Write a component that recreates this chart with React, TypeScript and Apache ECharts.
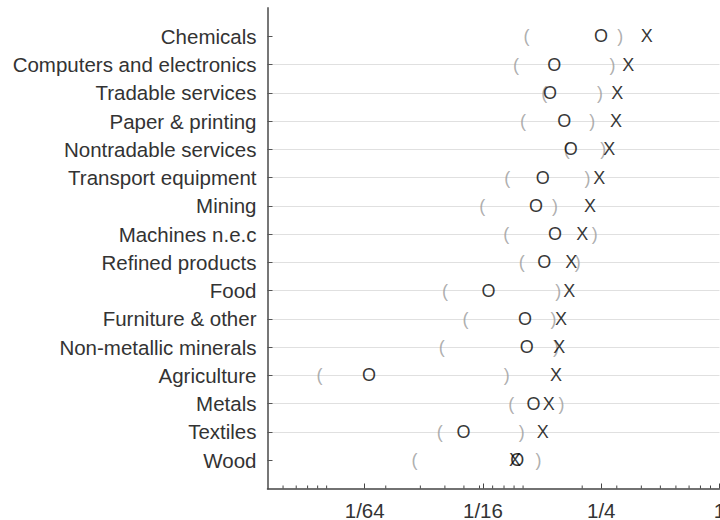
import React, { useEffect, useRef } from "react";
import * as echarts from "echarts";

const categories = [
  "Chemicals",
  "Computers and electronics",
  "Tradable services",
  "Paper & printing",
  "Nontradable services",
  "Transport equipment",
  "Mining",
  "Machines n.e.c",
  "Refined products",
  "Food",
  "Furniture & other",
  "Non-metallic minerals",
  "Agriculture",
  "Metals",
  "Textiles",
  "Wood",
];

// lower bound of interval, shown as "("
const lowerCI = [0.104, 0.092, 0.128, 0.1, 0.167, 0.083, 0.062, 0.082, 0.0985, 0.04, 0.051, 0.0385, 0.0092, 0.087, 0.0377, 0.028];
// estimate, shown as "O"
const estimateO = [0.249, 0.144, 0.137, 0.162, 0.175, 0.126, 0.1165, 0.1456, 0.128, 0.0666, 0.1024, 0.1044, 0.01645, 0.113, 0.0497, 0.0935];
// upper bound of interval, shown as ")"
const upperCI = [0.312, 0.285, 0.2465, 0.225, 0.256, 0.213, 0.1456, 0.232, 0.19, 0.151, 0.143, 0.147, 0.0826, 0.157, 0.0985, 0.12];
// second estimate, shown as "X"
const estimateX = [0.426, 0.343, 0.302, 0.297, 0.275, 0.244, 0.219, 0.2, 0.176, 0.172, 0.156, 0.153, 0.147, 0.135, 0.126, 0.091];

const minorTicks = [
  0.006, 0.007, 0.008, 0.009, 0.01,
  0.02, 0.03, 0.04, 0.05, 0.06, 0.07, 0.08, 0.09, 0.1,
  0.2, 0.3, 0.4, 0.5, 0.6, 0.7, 0.8, 0.9,
];

const FONT = "'Liberation Sans', Arial, Helvetica, sans-serif";

function glyphSeries(name: string, values: number[], glyph: string, color: string, z: number) {
  return {
    name,
    type: "scatter",
    z,
    symbol: "circle",
    symbolSize: 1,
    itemStyle: { color: "rgba(0,0,0,0)" },
    silent: true,
    data: values.map((v, i) => [v, i]),
    label: {
      show: true,
      position: "inside",
      formatter: glyph,
      fontSize: 18,
      fontFamily: FONT,
      color,
    },
  };
}

export default function App() {
  const ref = useRef<HTMLDivElement>(null);

  useEffect(() => {
    if (!ref.current) return;
    const chart = echarts.init(ref.current, undefined, { renderer: "svg" });
    const option = {
      animation: false,
      backgroundColor: "#fff",
      grid: {
        left: 267.5,
        right: 0.5,
        top: 8,
        bottom: 31.5,
        containLabel: false,
        outerBoundsMode: "none",
      },
      xAxis: {
        type: "log",
        logBase: 4,
        min: 0.005,
        max: 1,
        axisLine: { show: true, onZero: false, lineStyle: { color: "#444", width: 1.5 } },
        axisTick: { show: true, inside: true, length: 5, lineStyle: { color: "#444", width: 1 } },
        splitLine: { show: false },
        minorTick: { show: false },
        axisLabel: {
          showMinLabel: false,
          margin: 14,
          fontSize: 20.5,
          lineHeight: 16,
          fontFamily: FONT,
          color: "#333",
          formatter: (v: number) => (v >= 0.999 ? "1" : "1/" + Math.round(1 / v)),
        },
      },
      yAxis: {
        type: "value",
        inverse: true,
        min: -1,
        max: 16,
        interval: 1,
        axisLine: { show: true, onZero: false, lineStyle: { color: "#777", width: 2 } },
        axisTick: {
          show: true,
          inside: true,
          length: 5,
          customValues: categories.map((_, i) => i),
          lineStyle: { color: "#555", width: 1 },
        },
        splitLine: {
          show: true,
          showMinLine: false,
          showMaxLine: false,
          lineStyle: { color: "#e0e0e0", width: 1 },
        },
        axisLabel: {
          margin: 11,
          fontSize: 20.5,
          fontFamily: FONT,
          color: "#333",
          customValues: categories.map((_, i) => i),
          formatter: (v: number) => categories[Math.round(v)] ?? "",
        },
      },
      series: [
        {
          name: "minor",
          type: "custom",
          silent: true,
          clip: false,
          data: minorTicks.map((v) => [v, 16]),
          encode: { x: 0, y: 1 },
          renderItem: (_params: any, api: any) => {
            const p = api.coord([api.value(0), 16]);
            return {
              type: "line",
              shape: { x1: p[0], y1: p[1], x2: p[0], y2: p[1] - 3 },
              style: { stroke: "#444", lineWidth: 1 },
            };
          },
        },
        glyphSeries("lower", lowerCI, "(", "#9a9a9a", 2),
        glyphSeries("upper", upperCI, ")", "#9a9a9a", 2),
        glyphSeries("X", estimateX, "X", "#000", 3),
        glyphSeries("O", estimateO, "O", "#000", 4),
      ],
    };
    chart.setOption(option as any);
    return () => chart.dispose();
  }, []);

  return (
    <div
      ref={ref}
      style={{ position: "absolute", left: 0, top: 0, width: 720, height: 520 }}
    />
  );
}
